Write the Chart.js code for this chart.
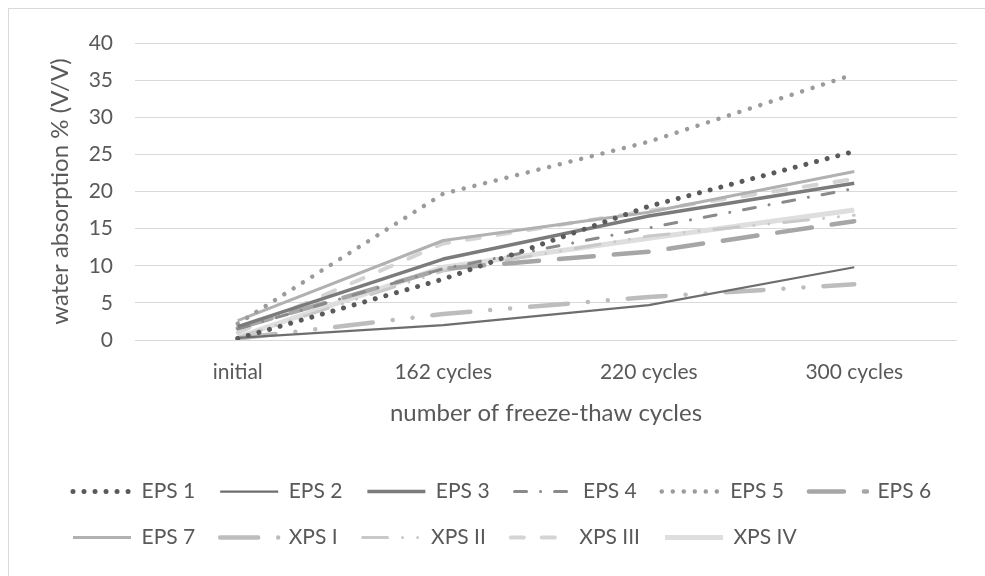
<!DOCTYPE html>
<html lang="en">
<head>
  <meta charset="UTF-8" />
  <title>Water absorption vs freeze-thaw cycles</title>
  <script src="https://cdn.jsdelivr.net/npm/chart.js"></script>
  <style>
    html, body { margin: 0; padding: 0; background: #fff; }
    .frame { position: absolute; left: 8px; top: 8px; width: 1000px; height: 600px; border: 1px solid #d9d9d9; }
    .wrap { position: absolute; left: 0; top: 0; width: 985px; height: 576px; }
  </style>
</head>
<body>
  <div class="frame"></div>
  <div class="wrap"><canvas id="chart"></canvas></div>
  <script>
    // categories (x axis)
    const cycles = ['initial', '162 cycles', '220 cycles', '300 cycles'];
    const yTicks = [0, 5, 10, 15, 20, 25, 30, 35, 40];

    // water absorption % (V/V)
    const eps1 = [0.2, 8.2, 18.0, 25.4];
    const eps2 = [0.3, 2.0, 4.7, 9.8];
    const eps3 = [1.8, 10.9, 16.7, 21.1];
    const eps4 = [1.5, 9.6, 15.1, 20.4];
    const eps5 = [2.2, 19.7, 26.7, 35.8];
    const eps6 = [1.6, 9.6, 11.9, 16.0];
    const eps7 = [2.6, 13.4, 17.2, 22.7];
    const xps1 = [0.2, 3.5, 5.8, 7.5];
    const xps2 = [0.3, 9.3, 14.0, 16.8];
    const xps3 = [1.0, 13.0, 17.4, 21.7];
    const xps4 = [0.4, 9.8, 13.7, 17.5];

    const txt = '#595959';
    const tickSize = 21;
    const titleSize = 24;
    Chart.defaults.font.family = 'Lato, "Open Sans", sans-serif';
    Chart.defaults.color = txt;

    function series(label, data, color, width, dash) {
      return {
        label: label,
        data: data,
        borderColor: color,
        backgroundColor: color,
        borderWidth: width,
        borderDash: dash,
        borderCapStyle: dash.length ? 'round' : 'butt',
        borderJoinStyle: 'round',
        pointRadius: 0,
        pointHoverRadius: 0,
        fill: false,
        tension: 0
      };
    }

    const dotted = [0.01, 11];
    const datasets = [
      series('EPS 1', eps1, '#5a5a5a', 5, dotted),
      series('EPS 2', eps2, '#6e6e6e', 2.25, []),
      series('EPS 3', eps3, '#7b7b7b', 3.5, []),
      series('EPS 4', eps4, '#8a8a8a', 3, [12, 14, 0.01, 14]),
      series('EPS 5', eps5, '#9b9b9b', 4.5, dotted),
      series('EPS 6', eps6, '#a6a6a6', 4.5, [35, 20]),
      series('EPS 7', eps7, '#b1b1b1', 3, []),
      series('XPS I', xps1, '#bdbdbd', 4.5, [38, 20, 0.01, 20, 0.01, 20]),
      series('XPS II', xps2, '#c9c9c9', 3, [25, 15, 0.01, 15, 0.01, 15]),
      series('XPS III', xps3, '#d4d4d4', 4, [13, 18]),
      series('XPS IV', xps4, '#dedede', 5, [])
    ];

    const ctx = document.getElementById('chart').getContext('2d');
    new Chart(ctx, {
      type: 'line',
      data: { labels: cycles, datasets: datasets },
      options: {
        responsive: true,
        maintainAspectRatio: false,
        animation: false,
        layout: { padding: { left: 48, right: 28, top: 43, bottom: 18 } },
        plugins: {
          tooltip: { enabled: false },
          legend: {
            position: 'bottom',
            align: 'start',
            labels: {
              usePointStyle: true,
              pointStyle: 'line',
              pointStyleWidth: 58,
              padding: 25,
              color: txt,
              font: { size: tickSize },
              generateLabels: chart => chart.data.datasets.map((ds, i) => ({
                text: ds.label,
                fontColor: txt,
                fillStyle: ds.borderColor,
                strokeStyle: ds.borderColor,
                lineWidth: ds.borderWidth,
                lineDash: ds.borderDash,
                lineCap: ds.borderCapStyle,
                pointStyle: 'line',
                hidden: false,
                datasetIndex: i
              }))
            }
          }
        },
        scales: {
          x: {
            offset: true,
            grid: { display: false, drawTicks: false },
            border: { display: false },
            ticks: { color: txt, font: { size: tickSize }, padding: 20, maxRotation: 0 },
            title: { display: true, text: 'number of freeze-thaw cycles', color: txt, font: { size: titleSize }, padding: { top: 0, bottom: 28.6 } },
            afterFit: s => { s.height = 116; }
          },
          y: {
            min: 0,
            max: 40,
            afterBuildTicks: s => { s.ticks = yTicks.map(v => ({ value: v })); },
            grid: { color: '#d9d9d9', lineWidth: 1, drawTicks: false },
            border: { display: false },
            ticks: { color: txt, font: { size: tickSize }, padding: 22 },
            title: { display: true, text: 'water absorption % (V/V)', color: txt, font: { size: titleSize }, padding: { top: -2, bottom: 0 } },
            afterFit: s => { s.width = 87; }
          }
        }
      }
    });
  </script>
</body>
</html>
